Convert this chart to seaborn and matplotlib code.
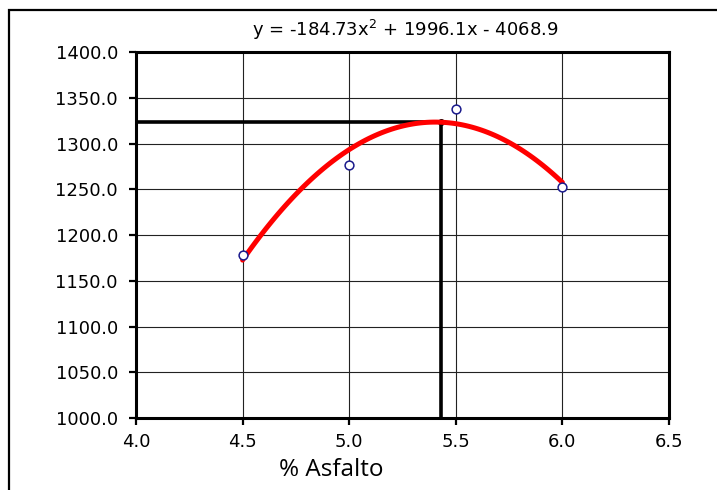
import matplotlib
matplotlib.use("Agg")
import matplotlib.pyplot as plt
from matplotlib.patches import Rectangle
import pandas as pd
import seaborn as sns

# measured points
asfalto = [4.5, 5.0, 5.5, 6.0]
peso = [1178.0, 1277.0, 1338.0, 1252.0]

# optimum
opt_x = 5.43
opt_y = 1323.0

x_ticks = [4.0, 4.5, 5.0, 5.5, 6.0, 6.5]
y_ticks = [1000, 1050, 1100, 1150, 1200, 1250, 1300, 1350, 1400]
equation = "y = -184.73x$^{2}$ + 1996.1x - 4068.9"

df = pd.DataFrame({"asfalto": asfalto, "peso": peso})

sns.set_style("white")
plt.rcParams["font.family"] = ["DejaVu Sans"]
plt.rcParams["mathtext.default"] = "regular"
plt.rcParams["text.color"] = "black"

fig = plt.figure(figsize=(7.17, 4.9), dpi=100)
ax = fig.add_axes([136 / 717, 72 / 490, 533 / 717, 366 / 490])

# grid
for xv in x_ticks[1:-1]:
    ax.axvline(xv, color="#222222", lw=0.8, zorder=1)
for yv in y_ticks[1:-1]:
    ax.axhline(yv, color="#222222", lw=0.8, zorder=1)

# optimum lines
ax.plot([x_ticks[0], opt_x], [opt_y, opt_y], color="black", lw=2.6, zorder=3,
        solid_capstyle="butt")
ax.plot([opt_x, opt_x], [y_ticks[0], opt_y], color="black", lw=2.6, zorder=3,
        solid_capstyle="butt")
ax.plot([opt_x], [opt_y], "o", color="black", ms=4, zorder=4)

# 2nd order trend line
sns.regplot(data=df, x="asfalto", y="peso", order=2, ci=None, scatter=False,
            truncate=True, line_kws=dict(color="red", lw=3.6, zorder=5), ax=ax)
sns.scatterplot(data=df, x="asfalto", y="peso", marker="o", s=40,
                facecolor="white", edgecolor="#1a1a8c", linewidth=1.1,
                zorder=6, ax=ax)

ax.set_xlim(x_ticks[0], x_ticks[-1])
ax.set_ylim(y_ticks[0], y_ticks[-1])
ax.set_xticks(x_ticks)
ax.set_yticks(y_ticks)
ax.set_xticklabels([f"{v:.1f}" for v in x_ticks])
ax.set_yticklabels([f"{v:.1f}" for v in y_ticks])
ax.tick_params(axis="both", direction="out", length=5, width=1.6,
               labelsize=13, color="black", labelcolor="black",
               bottom=True, left=True)
ax.tick_params(axis="x", pad=6)
ax.tick_params(axis="y", pad=8)
ax.set_xlabel("")
ax.set_ylabel("")
for sp in ax.spines.values():
    sp.set_visible(True)
    sp.set_color("black")
    sp.set_linewidth(2.2)

fig.text(405 / 717, 1 - 30 / 490, equation, ha="center", va="center",
         fontsize=13, color="black")
fig.text(331 / 717, 1 - 470 / 490, "% Asfalto", ha="center", va="center",
         fontsize=17.5, color="black", family=["Open Sans", "DejaVu Sans"])

# outer chart border (top and left visible)
fig.patches.append(Rectangle((9 / 717, -0.1), 1.0, (480 / 490) + 0.1,
                             transform=fig.transFigure, fill=False,
                             edgecolor="black", lw=1.6))

fig.savefig("out.png", dpi=100)
